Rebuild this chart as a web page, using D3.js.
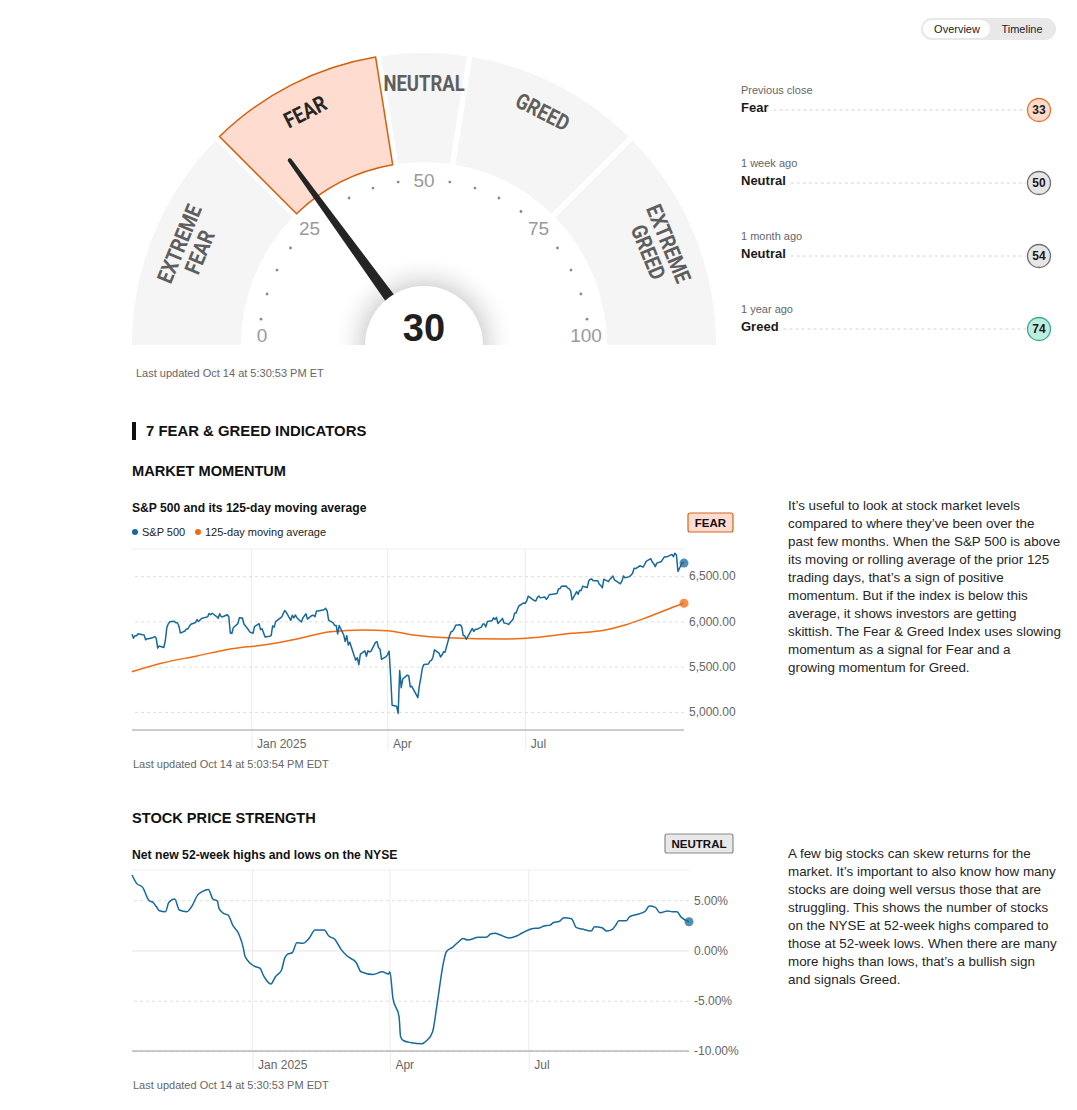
<!DOCTYPE html>
<html>
<head>
<meta charset="utf-8">
<script src="https://cdn.jsdelivr.net/npm/d3@7"></script>
<style>
  body { margin: 0; background: #fff; }
  svg text { font-family: "Liberation Sans", Arial, sans-serif; }
  svg text.cond { font-family: Roboto, "Noto Sans", sans-serif; font-weight: bold; }
</style>
</head>
<body>
<svg id="page" width="1077" height="1110"></svg>
<script>
// Valeur de l'indice et zones de la jauge
const indexValue = 30;
const zones = ["EXTREME FEAR", "FEAR", "NEUTRAL", "GREED", "EXTREME GREED"];
const zoneBounds = [0, 25, 45, 55, 75, 100];
const activeZone = "FEAR";
const gaugeTicks = [0, 25, 50, 75, 100];

// Historique
const historyLabels = ["Previous close", "1 week ago", "1 month ago", "1 year ago"];
const historyRatings = ["Fear", "Neutral", "Neutral", "Greed"];
const historyValues = [33, 50, 54, 74];

// S&P 500 (clôtures)
const sp500 = [
  ["2024-10-14",5859],["2024-10-15",5815],["2024-10-16",5842],["2024-10-17",5841],["2024-10-18",5864],
  ["2024-10-21",5853],["2024-10-22",5851],["2024-10-23",5797],["2024-10-24",5809],["2024-10-25",5808],
  ["2024-10-28",5823],["2024-10-29",5832],["2024-10-30",5813],["2024-10-31",5705],["2024-11-01",5729],
  ["2024-11-04",5712],["2024-11-05",5783],["2024-11-06",5929],["2024-11-07",5973],["2024-11-08",5996],
  ["2024-11-11",6001],["2024-11-12",5984],["2024-11-13",5985],["2024-11-14",5949],["2024-11-15",5871],
  ["2024-11-18",5894],["2024-11-19",5917],["2024-11-20",5917],["2024-11-21",5949],["2024-11-22",5969],
  ["2024-11-25",5987],["2024-11-26",6021],["2024-11-27",5998],["2024-11-29",6032],["2024-12-02",6047],
  ["2024-12-03",6050],["2024-12-04",6087],["2024-12-05",6075],["2024-12-06",6090],["2024-12-09",6053],
  ["2024-12-10",6034],["2024-12-11",6085],["2024-12-12",6051],["2024-12-13",6051],["2024-12-16",6074],
  ["2024-12-17",6051],["2024-12-18",5872],["2024-12-19",5867],["2024-12-20",5930],["2024-12-23",5975],
  ["2024-12-24",6040],["2024-12-26",6037],["2024-12-27",5971],["2024-12-30",5907],["2024-12-31",5882],
  ["2025-01-02",5869],["2025-01-03",5942],["2025-01-06",5975],["2025-01-07",5909],["2025-01-08",5918],
  ["2025-01-10",5827],["2025-01-13",5836],["2025-01-14",5843],["2025-01-15",5950],["2025-01-16",5937],
  ["2025-01-17",5997],["2025-01-21",6049],["2025-01-22",6086],["2025-01-23",6119],["2025-01-24",6101],
  ["2025-01-27",6012],["2025-01-28",6068],["2025-01-29",6039],["2025-01-30",6071],["2025-01-31",6041],
  ["2025-02-03",5994],["2025-02-04",6038],["2025-02-05",6061],["2025-02-06",6084],["2025-02-07",6026],
  ["2025-02-10",6066],["2025-02-11",6068],["2025-02-12",6052],["2025-02-13",6115],["2025-02-14",6115],
  ["2025-02-18",6129],["2025-02-19",6144],["2025-02-20",6118],["2025-02-21",6013],["2025-02-24",5983],
  ["2025-02-25",5955],["2025-02-26",5956],["2025-02-27",5861],["2025-02-28",5955],["2025-03-03",5850],
  ["2025-03-04",5778],["2025-03-05",5843],["2025-03-06",5739],["2025-03-07",5770],["2025-03-10",5615],
  ["2025-03-11",5572],["2025-03-12",5599],["2025-03-13",5522],["2025-03-14",5639],["2025-03-17",5675],
  ["2025-03-18",5615],["2025-03-19",5675],["2025-03-20",5663],["2025-03-21",5668],["2025-03-24",5768],
  ["2025-03-25",5777],["2025-03-26",5712],["2025-03-27",5693],["2025-03-28",5581],["2025-03-31",5612],
  ["2025-04-01",5633],["2025-04-02",5671],["2025-04-03",5397],["2025-04-04",5074],["2025-04-07",5062],
  ["2025-04-08",4983],["2025-04-09",5457],["2025-04-10",5268],["2025-04-11",5363],["2025-04-14",5406],
  ["2025-04-15",5397],["2025-04-16",5276],["2025-04-17",5283],["2025-04-21",5158],["2025-04-22",5288],
  ["2025-04-23",5376],["2025-04-24",5485],["2025-04-25",5525],["2025-04-28",5529],["2025-04-29",5561],
  ["2025-04-30",5569],["2025-05-01",5604],["2025-05-02",5686],["2025-05-05",5650],["2025-05-06",5607],
  ["2025-05-07",5631],["2025-05-08",5664],["2025-05-09",5660],["2025-05-12",5844],["2025-05-13",5886],
  ["2025-05-14",5892],["2025-05-15",5917],["2025-05-16",5958],["2025-05-19",5964],["2025-05-20",5941],
  ["2025-05-21",5845],["2025-05-22",5842],["2025-05-23",5802],["2025-05-27",5922],["2025-05-28",5889],
  ["2025-05-29",5912],["2025-05-30",5912],["2025-06-02",5936],["2025-06-03",5970],["2025-06-04",5971],
  ["2025-06-05",5939],["2025-06-06",6000],["2025-06-09",6006],["2025-06-10",6039],["2025-06-11",6022],
  ["2025-06-12",6045],["2025-06-13",5977],["2025-06-16",6033],["2025-06-17",5983],["2025-06-18",5981],
  ["2025-06-20",5967],["2025-06-23",6025],["2025-06-24",6092],["2025-06-25",6092],["2025-06-26",6141],
  ["2025-06-27",6173],["2025-06-30",6205],["2025-07-01",6198],["2025-07-02",6227],["2025-07-03",6279],
  ["2025-07-07",6230],["2025-07-08",6226],["2025-07-09",6263],["2025-07-10",6280],["2025-07-11",6260],
  ["2025-07-14",6269],["2025-07-15",6244],["2025-07-16",6264],["2025-07-17",6297],["2025-07-18",6297],
  ["2025-07-21",6306],["2025-07-22",6309],["2025-07-23",6359],["2025-07-24",6363],["2025-07-25",6389],
  ["2025-07-28",6390],["2025-07-29",6371],["2025-07-30",6362],["2025-07-31",6339],["2025-08-01",6238],
  ["2025-08-04",6330],["2025-08-05",6299],["2025-08-06",6345],["2025-08-07",6340],["2025-08-08",6389],
  ["2025-08-11",6374],["2025-08-12",6446],["2025-08-13",6466],["2025-08-14",6469],["2025-08-15",6450],
  ["2025-08-18",6449],["2025-08-19",6411],["2025-08-20",6396],["2025-08-21",6370],["2025-08-22",6467],
  ["2025-08-25",6439],["2025-08-26",6466],["2025-08-27",6481],["2025-08-28",6502],["2025-08-29",6460],
  ["2025-09-02",6416],["2025-09-03",6448],["2025-09-04",6502],["2025-09-05",6482],["2025-09-08",6495],
  ["2025-09-09",6512],["2025-09-10",6532],["2025-09-11",6588],["2025-09-12",6584],["2025-09-15",6615],
  ["2025-09-16",6607],["2025-09-17",6600],["2025-09-18",6631],["2025-09-19",6664],["2025-09-22",6693],
  ["2025-09-23",6657],["2025-09-24",6638],["2025-09-25",6605],["2025-09-26",6644],["2025-09-29",6661],
  ["2025-09-30",6688],["2025-10-01",6711],["2025-10-02",6715],["2025-10-03",6715],["2025-10-06",6740],
  ["2025-10-07",6715],["2025-10-08",6754],["2025-10-09",6735],["2025-10-10",6553],["2025-10-13",6654],
  ["2025-10-14",6644]
];

// Moyenne mobile 125 jours
const sp500Ma = [
  ["2024-10-14",5444],["2024-11-03",5540],["2024-11-26",5618],["2024-12-18",5695],["2025-01-09",5739],
  ["2025-01-31",5806],["2025-02-22",5886],["2025-03-16",5905],["2025-04-01",5897],["2025-04-18",5850],
  ["2025-05-10",5820],["2025-06-19",5806],["2025-07-02",5813],["2025-08-01",5868],["2025-08-23",5905],
  ["2025-09-05",5960],["2025-09-19",6041],["2025-10-02",6126],["2025-10-14",6200]
];

// Nouveaux plus hauts moins plus bas sur 52 semaines (NYSE, %)
const nyseNet = [
  ["2024-10-14",7.5],["2024-10-17",6.67],["2024-10-21",6.27],["2024-10-25",5.0],["2024-10-28",4.74],
  ["2024-10-30",4.34],["2024-11-01",3.95],["2024-11-05",3.85],["2024-11-07",4.74],["2024-11-11",5.11],
  ["2024-11-14",4.02],["2024-11-19",3.85],["2024-11-22",4.34],["2024-11-26",5.5],["2024-11-29",5.84],
  ["2024-12-03",6.07],["2024-12-06",5.11],["2024-12-09",4.91],["2024-12-10",4.18],["2024-12-13",3.69],
  ["2024-12-16",3.52],["2024-12-19",2.52],["2024-12-23",1.63],["2024-12-26",0.21],["2024-12-27",-0.56],
  ["2024-12-31",-1.35],["2025-01-03",-1.62],["2025-01-06",-1.78],["2025-01-08",-2.45],["2025-01-10",-2.94],
  ["2025-01-13",-3.34],["2025-01-16",-2.61],["2025-01-20",-1.95],["2025-01-22",-0.79],["2025-01-24",-0.36],
  ["2025-01-27",-0.23],["2025-01-30",0.77],["2025-02-03",0.71],["2025-02-07",1.2],["2025-02-11",2.03],
  ["2025-02-17",2.03],["2025-02-20",1.43],["2025-02-24",1.1],["2025-02-28",0.11],["2025-03-04",-0.56],
  ["2025-03-10",-1.22],["2025-03-13",-2.12],["2025-03-21",-2.38],["2025-03-27",-2.12],["2025-03-31",-2.35],
  ["2025-04-01",-2.12],["2025-04-03",-4.76],["2025-04-07",-6.59],["2025-04-08",-8.58],["2025-04-10",-8.98],
  ["2025-04-15",-9.17],["2025-04-22",-9.27],["2025-04-25",-8.98],["2025-04-29",-8.08],["2025-05-02",-5.26],
  ["2025-05-06",-1.28],["2025-05-08",-0.13],["2025-05-12",0.31],["2025-05-16",0.86],["2025-05-19",1.2],
  ["2025-05-22",1.03],["2025-05-29",1.3],["2025-06-03",1.3],["2025-06-06",1.63],["2025-06-09",1.7],
  ["2025-06-12",1.56],["2025-06-18",1.23],["2025-06-23",1.43],["2025-06-27",1.76],["2025-07-03",2.16],
  ["2025-07-08",2.23],["2025-07-11",2.43],["2025-07-15",2.52],["2025-07-17",2.75],["2025-07-21",2.89],
  ["2025-07-24",3.25],["2025-07-29",3.15],["2025-08-01",2.3],["2025-08-05",2.13],["2025-08-11",1.93],
  ["2025-08-13",2.36],["2025-08-18",2.26],["2025-08-21",1.93],["2025-08-25",2.13],["2025-08-27",2.52],
  ["2025-08-29",2.95],["2025-09-03",2.95],["2025-09-05",3.35],["2025-09-09",3.55],["2025-09-15",3.85],
  ["2025-09-18",4.41],["2025-09-22",4.28],["2025-09-25",3.75],["2025-09-30",3.92],["2025-10-03",3.85],
  ["2025-10-06",3.85],["2025-10-09",3.29],["2025-10-14",2.85]
];

// Graduations
const momentumTicks = [5000, 5500, 6000, 6500];
const momentumDomain = [4800, 6800];
const strengthTicks = [-10, -5, 0, 5];
const strengthDomain = [-10, 8];
const monthTicks = ["2025-01-01", "2025-04-01", "2025-07-01"];
const dateRange = ["2024-10-14", "2025-10-14"];

// Textes
const momentumText = [
  "It\u2019s useful to look at stock market levels",
  "compared to where they\u2019ve been over the",
  "past few months. When the S&P 500 is above",
  "its moving or rolling average of the prior 125",
  "trading days, that\u2019s a sign of positive",
  "momentum. But if the index is below this",
  "average, it shows investors are getting",
  "skittish. The Fear & Greed Index uses slowing",
  "momentum as a signal for Fear and a",
  "growing momentum for Greed."
];
const strengthText = [
  "A few big stocks can skew returns for the",
  "market. It\u2019s important to also know how many",
  "stocks are doing well versus those that are",
  "struggling. This shows the number of stocks",
  "on the NYSE at 52-week highs compared to",
  "those at 52-week lows. When there are many",
  "more highs than lows, that\u2019s a bullish sign",
  "and signals Greed."
];

const BLUE = "#17699a", ORANGE = "#f06b12";
const parseDate = d3.timeParse("%Y-%m-%d");
const svg = d3.select("#page");
const defs = svg.append("defs");

// Couleurs des pastilles selon la note
const ratingStyle = {
  "Fear": { fill: "#fedacb", stroke: "#e2772c" },
  "Neutral": { fill: "#e6e6e6", stroke: "#6e6e6e" },
  "Greed": { fill: "#bdece1", stroke: "#3aa88b" }
};

// ---------- Bouton Overview / Timeline ----------
svg.append("rect").attr("x", 921).attr("y", 18).attr("width", 135).attr("height", 22)
  .attr("rx", 11).attr("fill", "#e8e8e8");
svg.append("rect").attr("x", 923).attr("y", 20).attr("width", 67).attr("height", 18)
  .attr("rx", 9).attr("fill", "#fff");
svg.append("text").text("Overview").attr("x", 957).attr("y", 33).attr("text-anchor", "middle")
  .attr("font-size", 11).attr("fill", "#222");
svg.append("text").text("Timeline").attr("x", 1022).attr("y", 33).attr("text-anchor", "middle")
  .attr("font-size", 11).attr("fill", "#222");

// ---------- Jauge ----------
const cx = 424, cy = 345, rIn = 183, rOut = 292;
const ang = v => (v / 100 - 0.5) * Math.PI;
const deg = a => a * 180 / Math.PI;

defs.append("clipPath").attr("id", "gclip")
  .append("rect").attr("x", 0).attr("y", 0).attr("width", 1077).attr("height", cy);
const halo = defs.append("radialGradient").attr("id", "halo");
halo.append("stop").attr("offset", "0.64").attr("stop-color", "#dcdcdc");
halo.append("stop").attr("offset", "1").attr("stop-color", "#ffffff").attr("stop-opacity", 0);

const gauge = svg.append("g").attr("clip-path", "url(#gclip)");
const pad = 0.016;
const arc = d3.arc().innerRadius(rIn).outerRadius(rOut).padAngle(pad);

// secteurs
zones.forEach((z, i) => {
  const a0 = ang(zoneBounds[i]) - (i === 0 ? pad : 0);
  const a1 = ang(zoneBounds[i + 1]) + (i === zones.length - 1 ? pad : 0);
  const actif = z === activeZone;
  gauge.append("path")
    .attr("d", arc({ startAngle: a0, endAngle: a1 }))
    .attr("transform", `translate(${cx},${cy})`)
    .attr("fill", actif ? "#ffdcd0" : "#f5f5f5")
    .attr("stroke", actif ? "#d2600f" : "none")
    .attr("stroke-width", 1.5);
});

// libellés de zone (police étroite simulée)
zones.forEach((z, i) => {
  const actif = z === activeZone;
  const a = ang((zoneBounds[i] + zoneBounds[i + 1]) / 2);
  const mots = z.split(" ");
  const rl = mots.length > 1 ? 254 : 262;
  const lab = gauge.append("g")
    .attr("transform", `translate(${cx + rl * Math.sin(a)},${cy - rl * Math.cos(a)}) rotate(${deg(a)})`);
  mots.forEach((m, j) => {
    lab.append("text").attr("class", "cond").text(m)
      .attr("transform", `translate(0,${(j - (mots.length - 1) / 2) * 22}) scale(0.84,1)`)
      .attr("dy", "0.36em")
      .attr("text-anchor", "middle")
      .attr("font-size", 22)
      .attr("fill", actif ? "#262626" : "#5e5e5e");
  });
});

// points de graduation
d3.range(5, 100, 5).filter(v => !gaugeTicks.includes(v)).forEach(v => {
  gauge.append("circle")
    .attr("cx", cx + 165 * Math.sin(ang(v)))
    .attr("cy", cy - 165 * Math.cos(ang(v)))
    .attr("r", 1.4).attr("fill", "#8a8a8a");
});
gaugeTicks.forEach(v => {
  gauge.append("text").text(v)
    .attr("x", cx + 162 * Math.sin(ang(v)))
    .attr("y", Math.min(cy - 165 * Math.cos(ang(v)), cy - 10))
    .attr("dy", "0.36em")
    .attr("text-anchor", "middle")
    .attr("font-size", 19)
    .attr("fill", "#9a9a9a");
});

// halo, aiguille, disque central
gauge.append("circle").attr("cx", cx).attr("cy", cy).attr("r", 92).attr("fill", "url(#halo)");
gauge.append("path")
  .attr("d", "M-6.5,0 L-2,-229 Q0,-232 2,-229 L6.5,0 Z")
  .attr("transform", `translate(${cx},${cy}) rotate(${deg(ang(indexValue))})`)
  .attr("fill", "#242424");
gauge.append("circle").attr("cx", cx).attr("cy", cy).attr("r", 59).attr("fill", "#fff");
svg.append("text").text(indexValue)
  .attr("x", cx).attr("y", 341)
  .attr("text-anchor", "middle")
  .attr("font-size", 38).attr("font-weight", "bold").attr("fill", "#1f1f1f");

svg.append("text").text("Last updated Oct 14 at 5:30:53 PM ET")
  .attr("x", 136).attr("y", 377).attr("font-size", 11).attr("fill", "#666");

// ---------- Historique ----------
historyLabels.forEach((lab, i) => {
  const y0 = 94 + i * 73;
  svg.append("text").text(lab).attr("x", 741).attr("y", y0)
    .attr("font-size", 11).attr("fill", "#666");
  const t = svg.append("text").text(historyRatings[i]).attr("x", 741).attr("y", y0 + 18)
    .attr("font-size", 13).attr("font-weight", "bold").attr("fill", "#1a1a1a");
  const w = t.node().getComputedTextLength();
  svg.append("line")
    .attr("x1", 741 + w + 5).attr("x2", 1026)
    .attr("y1", y0 + 16).attr("y2", y0 + 16)
    .attr("stroke", "#d4d4d4").attr("stroke-dasharray", "3,3");
  const st = ratingStyle[historyRatings[i]];
  svg.append("circle").attr("cx", 1039).attr("cy", y0 + 16).attr("r", 11.5)
    .attr("fill", st.fill).attr("stroke", st.stroke).attr("stroke-width", 1.3);
  svg.append("text").text(historyValues[i]).attr("x", 1039).attr("y", y0 + 16)
    .attr("dy", "0.36em").attr("text-anchor", "middle")
    .attr("font-size", 12).attr("font-weight", "bold").attr("fill", "#1a1a1a");
});

// ---------- Titres de section ----------
svg.append("rect").attr("x", 132).attr("y", 422).attr("width", 4).attr("height", 18).attr("fill", "#111");
svg.append("text").text("7 FEAR & GREED INDICATORS").attr("x", 146).attr("y", 436)
  .attr("font-size", 14.9).attr("font-weight", "bold").attr("fill", "#111");

function badge(txt, x, y, w, fill, stroke) {
  svg.append("rect").attr("x", x).attr("y", y).attr("width", w).attr("height", 19)
    .attr("rx", 2).attr("fill", fill).attr("stroke", stroke).attr("stroke-width", 1.2);
  svg.append("text").text(txt).attr("x", x + w / 2).attr("y", y + 14)
    .attr("text-anchor", "middle").attr("font-size", 11.5).attr("font-weight", "bold").attr("fill", "#111");
}

function paragraph(lines, y0) {
  const t = svg.append("text").attr("font-size", 13.4).attr("fill", "#262626");
  lines.forEach((l, i) => t.append("tspan").text(l).attr("x", 788).attr("y", y0 + i * 18));
}

// ---------- Graphique générique ----------
function panel(cfg) {
  const x = d3.scaleTime().domain(dateRange.map(parseDate)).range([cfg.left, cfg.right]);
  const y = d3.scaleLinear().domain(cfg.domain).range([cfg.bottom, cfg.top]);
  const g = svg.append("g");

  // ligne du haut
  g.append("line").attr("x1", cfg.left).attr("x2", cfg.right)
    .attr("y1", cfg.top).attr("y2", cfg.top).attr("stroke", "#eeeeee");

  // axe des dates
  const xa = g.append("g").attr("transform", `translate(0,${cfg.bottom})`)
    .call(d3.axisBottom(x).tickValues(monthTicks.map(parseDate)).tickSize(20).tickSizeOuter(0)
      .tickFormat(d => d.getMonth() === 0 ? d3.timeFormat("%b %Y")(d) : d3.timeFormat("%b")(d)));
  xa.select(".domain").remove();
  xa.selectAll(".tick line").attr("stroke", "#ececec");
  xa.selectAll(".tick text").attr("x", 5).attr("y", 18).attr("dy", 0)
    .attr("text-anchor", "start").attr("font-size", 12).attr("fill", "#666")
    .style("font-family", "'Liberation Sans', Arial, sans-serif");

  // quadrillage vertical
  g.selectAll(".vgrid").data(monthTicks.map(parseDate)).join("line")
    .attr("x1", d => x(d)).attr("x2", d => x(d))
    .attr("y1", cfg.top).attr("y2", cfg.bottom)
    .attr("stroke", "#ececec");

  // axe des valeurs à droite
  const ya = g.append("g").attr("transform", `translate(${cfg.right},0)`)
    .call(d3.axisRight(y).tickValues(cfg.ticks).tickSizeInner(-(cfg.right - cfg.left)).tickSizeOuter(0)
      .tickPadding(5).tickFormat(cfg.format));
  ya.select(".domain").remove();
  ya.selectAll(".tick line")
    .attr("stroke", d => d === 0 ? "#e4e4e4" : "#dedede")
    .attr("stroke-dasharray", d => d === 0 ? null : "3,3");
  ya.selectAll(".tick text").attr("font-size", 12).attr("fill", "#666")
    .style("font-family", "'Liberation Sans', Arial, sans-serif");

  // ligne de base
  g.append("line").attr("x1", cfg.left).attr("x2", cfg.right)
    .attr("y1", cfg.bottom).attr("y2", cfg.bottom).attr("stroke", "#9a9a9a");

  cfg.series.forEach(s => {
    const line = d3.line().x(d => x(parseDate(d[0]))).y(d => y(d[1]));
    if (s.smooth) line.curve(d3.curveMonotoneX);
    g.append("path").datum(s.data).attr("d", line)
      .attr("fill", "none").attr("stroke", s.color).attr("stroke-width", 1.5)
      .attr("stroke-linejoin", "round");
    const last = s.data[s.data.length - 1];
    g.append("circle").attr("cx", x(parseDate(last[0]))).attr("cy", y(last[1]))
      .attr("r", 4.5).attr("fill", s.color).attr("fill-opacity", 0.75);
  });
}

// ---------- Market momentum ----------
svg.append("text").text("MARKET MOMENTUM").attr("x", 132).attr("y", 476)
  .attr("font-size", 14.6).attr("font-weight", "bold").attr("fill", "#111");
svg.append("text").text("S&P 500 and its 125-day moving average").attr("x", 132).attr("y", 512)
  .attr("font-size", 12.1).attr("font-weight", "bold").attr("fill", "#111");
svg.append("circle").attr("cx", 135).attr("cy", 532).attr("r", 3).attr("fill", BLUE);
svg.append("text").text("S&P 500").attr("x", 142).attr("y", 536).attr("font-size", 11).attr("fill", "#222");
svg.append("circle").attr("cx", 198).attr("cy", 532).attr("r", 3).attr("fill", ORANGE);
svg.append("text").text("125-day moving average").attr("x", 205).attr("y", 536).attr("font-size", 11).attr("fill", "#222");
badge("FEAR", 688, 513, 45, "#fedccf", "#d5661f");

panel({
  left: 132, right: 684, top: 549, bottom: 730,
  domain: momentumDomain, ticks: momentumTicks,
  format: d3.format(",.2f"),
  series: [
    { data: sp500Ma, color: ORANGE, smooth: true },
    { data: sp500, color: BLUE, smooth: false }
  ]
});
svg.append("text").text("Last updated Oct 14 at 5:03:54 PM EDT").attr("x", 133).attr("y", 768)
  .attr("font-size", 11).attr("fill", "#666");
paragraph(momentumText, 510);

// ---------- Stock price strength ----------
svg.append("text").text("STOCK PRICE STRENGTH").attr("x", 132).attr("y", 823)
  .attr("font-size", 14.6).attr("font-weight", "bold").attr("fill", "#111");
svg.append("text").text("Net new 52-week highs and lows on the NYSE").attr("x", 132).attr("y", 859)
  .attr("font-size", 12.2).attr("font-weight", "bold").attr("fill", "#111");
badge("NEUTRAL", 665, 834, 68, "#e8e8e8", "#8a8a8a");

panel({
  left: 132, right: 689, top: 870, bottom: 1051,
  domain: strengthDomain, ticks: strengthTicks,
  format: d => d.toFixed(2) + "%",
  series: [{ data: nyseNet, color: BLUE, smooth: true }]
});
svg.append("text").text("Last updated Oct 14 at 5:30:53 PM EDT").attr("x", 133).attr("y", 1089)
  .attr("font-size", 11).attr("fill", "#666");
paragraph(strengthText, 858);
</script>
</body>
</html>
